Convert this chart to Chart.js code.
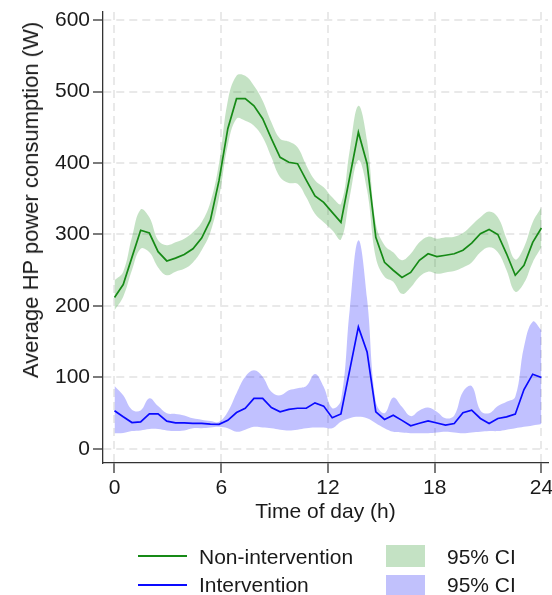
<!DOCTYPE html>
<html>
<head>
<meta charset="utf-8">
<script src="https://cdn.jsdelivr.net/npm/chart.js@4.4.1/dist/chart.umd.min.js"></script>
<style>
html,body{margin:0;padding:0;background:#ffffff;}
#wrap{position:relative;width:552px;height:595px;overflow:hidden;background:#fff;}
#c{position:absolute;left:0;top:0;}
.lgt{position:absolute;font-family:"Liberation Sans",Arial,sans-serif;font-size:21px;line-height:21px;color:#1a1a1a;white-space:nowrap;}
.lgl{position:absolute;height:2px;width:49px;}
.lgs{position:absolute;width:39px;height:22px;}
#ytitle{position:absolute;left:31px;top:200px;transform:translate(-50%,-50%) rotate(-90deg);font-family:"Liberation Sans",Arial,sans-serif;font-size:22px;line-height:22px;color:#1a1a1a;white-space:nowrap;}
</style>
</head>
<body>
<div id="wrap">
<canvas id="c" width="552" height="595"></canvas>
<div id="ytitle">Average HP power consumption (W)</div>
<div class="lgl" style="left:138px;top:555px;background:#168a16;"></div>
<div class="lgt" style="left:199px;top:546px;">Non-intervention</div>
<div class="lgl" style="left:138px;top:584px;background:#0a0aff;"></div>
<div class="lgt" style="left:199px;top:574px;">Intervention</div>
<div class="lgs" style="left:386px;top:545px;background:rgb(196,226,196);"></div>
<div class="lgt" style="left:447px;top:546px;">95% CI</div>
<div class="lgs" style="left:386px;top:575px;background:rgb(193,193,252);"></div>
<div class="lgt" style="left:447px;top:574px;">95% CI</div>
</div>
<script>
// Time of day (h) for each observation
const hours = [0.00,0.49,0.98,1.47,1.96,2.45,2.94,3.43,3.92,4.41,4.90,5.39,5.88,6.37,6.86,7.35,7.84,8.33,8.82,9.31,9.80,10.29,10.78,11.27,11.76,12.24,12.73,13.22,13.71,14.20,14.69,15.18,15.67,16.16,16.65,17.14,17.63,18.12,18.61,19.10,19.59,20.08,20.57,21.06,21.55,22.04,22.53,23.02,23.51,24.00];

// Non-intervention: mean and 95% CI
const nonIntervention = [212,230,268,306,302,276,263,267,272,280,295,320,376,448,490,490,480,462,434,408,401,399,376,354,345,331,317,380,443,399,296,261,250,240,247,264,273,269,271,273,278,288,301,307,300,273,243,257,289,309];
const nonInterventionHi = [236,248,296,335,324,292,285,289,294,303,317,345,400,487,522,522,508,487,457,434,430,422,397,376,366,352,343,417,480,431,315,285,275,264,273,289,297,294,296,297,302,313,324,332,324,294,265,282,317,338];
const nonInterventionLo = [194,213,250,280,275,254,243,248,252,261,278,303,352,425,462,459,452,436,408,380,372,371,352,329,317,306,293,352,404,362,268,241,234,217,226,241,248,245,247,249,254,261,275,282,275,250,220,232,261,282];

// Intervention: mean and 95% CI
const intervention = [53.5,45,37,38,49,49,39,36.6,36.6,35.7,35.7,34.8,34.4,40,51,57,70.7,70.7,58,52,55.3,57,57,64.5,60,43.6,49,110,170.7,135.8,52,41.3,47.3,40,32.5,36,39.4,36.4,33.4,35.7,50.6,54.3,42.7,35.7,42.7,45,48.7,83.2,104.6,100];
const interventionHi = [88,75,55,54,71,60,50,49,47,43,41,39,38,52,78,101,110,101,80,75,82,85,88,105,87,57,68,194,292,210,66,50,72,59,46,54,58,52,43,47,80,88,54,50,60,66,73,143,178,166];
const interventionLo = [22,22.5,25,26,28,28,26,25,26,29,29,30,31,29,24,27,31,30,29,27,26,27,29,30,30,29,38,43,45,43,36,29,24,23,22,22,22,23,24,23,22,23,24,25,25,27,29,31,33,35];

// Axis tick values
const xTickValues = [0,6,12,18,24];
const yTickValues = [0,100,200,300,400,500,600];

const FONT = '"Liberation Sans", Arial, sans-serif';
const pts = arr => hours.map((h, i) => ({x: h, y: arr[i]}));

const lineBase = {pointRadius: 0, fill: false, tension: 0, borderWidth: 1.7};
const bandBase = {pointRadius: 0, borderWidth: 0, tension: 0.4, borderColor: 'rgba(0,0,0,0)'};

new Chart(document.getElementById('c'), {
  type: 'line',
  data: {
    datasets: [
      Object.assign({label: 'Non-intervention', data: pts(nonIntervention), borderColor: '#168a16'}, lineBase),
      Object.assign({label: 'Intervention', data: pts(intervention), borderColor: '#0a0aff'}, lineBase),
      Object.assign({label: 'CI hi NI', data: pts(nonInterventionHi), fill: false}, bandBase),
      Object.assign({label: '95% CI', data: pts(nonInterventionLo), fill: '-1', backgroundColor: 'rgba(0,128,0,0.23)'}, bandBase),
      Object.assign({label: 'CI hi I', data: pts(interventionHi), fill: false}, bandBase),
      Object.assign({label: '95% CI', data: pts(interventionLo), fill: '-1', backgroundColor: 'rgba(0,0,255,0.245)'}, bandBase)
    ]
  },
  options: {
    responsive: false,
    animation: false,
    devicePixelRatio: 1,
    layout: {padding: {left: 0, top: 12, right: 4, bottom: 0}},
    plugins: {legend: {display: false}, tooltip: {enabled: false}},
    scales: {
      x: {
        type: 'linear',
        min: -0.646,
        max: 24.37,
        afterBuildTicks: s => { s.ticks = xTickValues.map(v => ({value: v})); },
        afterFit: s => { s.height = 132; s.paddingLeft = 0; s.paddingRight = 0; },
        grid: {color: '#e9e9e9', lineWidth: 2, drawTicks: true, tickLength: 10, tickColor: '#333', tickWidth: 1.3, tickBorderDash: []},
        border: {display: true, color: '#333', width: 1.3, dash: [8, 5]},
        ticks: {font: {family: FONT, size: 21}, color: '#1a1a1a', padding: 3, maxRotation: 0, autoSkip: false},
        title: {display: true, text: 'Time of day (h)', font: {family: FONT, size: 21}, color: '#1a1a1a', padding: {top: 0, bottom: 70}}
      },
      y: {
        type: 'linear',
        min: -19.6,
        max: 611.2,
        afterBuildTicks: s => { s.ticks = yTickValues.map(v => ({value: v})); },
        afterFit: s => { s.width = 103; s.paddingTop = 0; s.paddingBottom = 0; },
        grid: {color: '#e9e9e9', lineWidth: 2, drawTicks: true, tickLength: 10, tickColor: '#333', tickWidth: 1.3, tickBorderDash: []},
        border: {display: true, color: '#333', width: 1.3, dash: [8, 5]},
        ticks: {font: {family: FONT, size: 21}, color: '#1a1a1a', padding: 3, autoSkip: false},
        title: {display: false}
      }
    }
  }
});
</script>
</body>
</html>
